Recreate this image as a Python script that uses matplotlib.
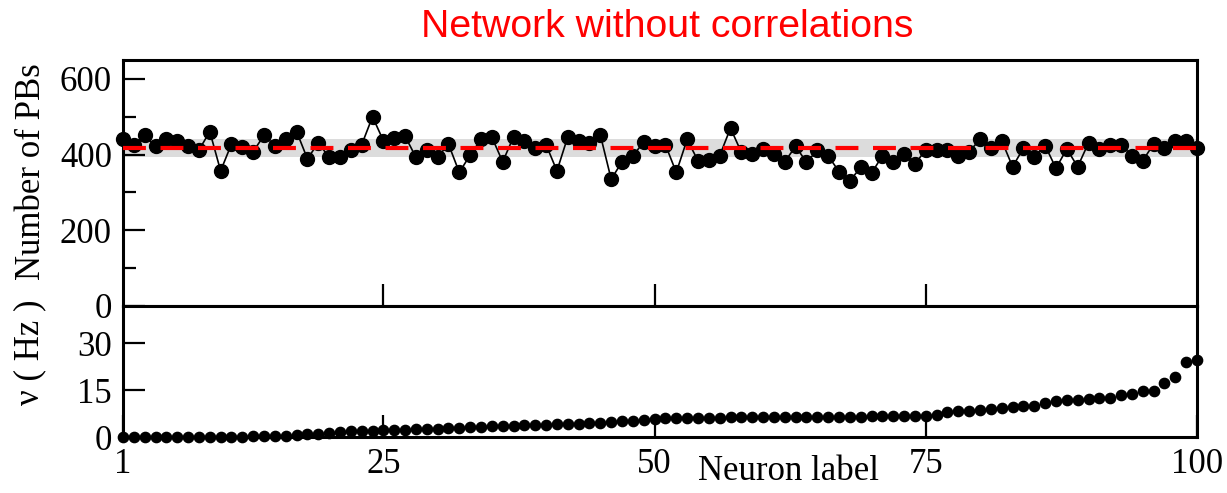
import numpy as np
import matplotlib
matplotlib.use('Agg')
import matplotlib.pyplot as plt

# number of population bursts each neuron takes part in
neuron = np.arange(1, 101)
n_pbs = [440, 426, 451, 422, 440, 437, 424, 412, 461, 357,
         428, 420, 408, 451, 424, 442, 461, 389, 431, 393,
         393, 413, 426, 500, 437, 444, 449, 393, 411, 393,
         428, 353, 399, 440, 446, 381, 447, 435, 417, 426,
         357, 447, 437, 431, 452, 335, 381, 397, 433, 422,
         426, 353, 440, 384, 385, 397, 470, 406, 402, 415,
         402, 381, 422, 380, 411, 397, 355, 331, 366, 351,
         397, 380, 402, 375, 413, 413, 411, 397, 408, 440,
         417, 437, 368, 417, 393, 424, 364, 415, 368, 431,
         415, 426, 426, 397, 384, 428, 417, 435, 437, 417]
pb_mean = 417
pb_std = 23.5

# firing rate (Hz), neurons sorted by rate
rate = [0.0, 0.0, 0.0, 0.0, 0.0, 0.0, 0.0, 0.0, 0.0, 0.0,
        0.1, 0.1, 0.2, 0.2, 0.3, 0.4, 0.5, 0.9, 1.1, 1.3,
        1.6, 1.8, 1.9, 2.0, 2.1, 2.2, 2.4, 2.5, 2.6, 2.7,
        2.9, 3.0, 3.2, 3.3, 3.4, 3.5, 3.6, 3.7, 3.8, 4.0,
        4.1, 4.2, 4.3, 4.5, 4.6, 4.8, 5.0, 5.2, 5.6, 5.9,
        6.0, 6.1, 6.1, 6.2, 6.2, 6.2, 6.3, 6.3, 6.3, 6.3,
        6.4, 6.4, 6.4, 6.4, 6.5, 6.5, 6.5, 6.5, 6.5, 6.6,
        6.6, 6.6, 6.6, 6.7, 6.7, 7.1, 8.0, 8.2, 8.3, 8.6,
        9.0, 9.4, 9.5, 9.8, 10.0, 11.0, 11.4, 11.9, 12.0, 12.3,
        12.4, 12.5, 13.6, 13.9, 14.6, 14.7, 17.3, 19.2, 24.0, 24.7]

xticks = [1, 25, 50, 75, 100]

serif = 'Liberation Serif'
W, H = 1227, 493
fig = plt.figure(figsize=(W / 100, H / 100), dpi=100)

left, right = 123 / W, 1197 / W
ax1 = fig.add_axes([left, 1 - 306 / H, right - left, (306 - 60) / H])
ax2 = fig.add_axes([left, 1 - 437 / H, right - left, (437 - 306) / H])

#top panel
ax1.axhspan(pb_mean - pb_std, pb_mean + pb_std, color='#dcdcdc', lw=0, zorder=0)
ax1.plot(neuron, n_pbs, '-o', color='black', lw=1.2, ms=10, clip_on=False, zorder=3)
ax1.axhline(pb_mean, color='red', lw=3, dashes=(5.5, 3.5), zorder=4)
ax1.set_xlim(1, 100)
ax1.set_ylim(0, 650)
ax1.set_yticks([0, 200, 400, 600])
ax1.set_yticks([100, 300, 500], minor=True)
ax1.set_xticks([25, 50, 75])
ax1.set_xticklabels([])

#bottom panel
ax2.plot(neuron, rate, 'o', color='black', ms=7.4, clip_on=False, zorder=3)
ax2.set_xlim(1, 100)
ax2.set_ylim(0, 42)
ax2.set_yticks([0, 15, 30])
ax2.set_xticks(xticks)

for ax in (ax1, ax2):
    for s in ax.spines.values():
        s.set_linewidth(2.2)
    ax.tick_params(which='major', direction='in', length=16, width=1.6,
                   top=False, right=False, labelsize=25, pad=8)
    ax.tick_params(which='minor', direction='in', length=9, width=1.6,
                   top=False, right=False)
    for lab in ax.get_xticklabels() + ax.get_yticklabels():
        lab.set_family(serif)

ax2.tick_params(axis='x', pad=8)

fig.text(32 / W, 1 - 172 / H, 'Number of PBs', rotation=90, ha='center', va='center',
         fontsize=25, family=serif)
fig.text(30 / W, 1 - 352 / H, 'ν ( Hz )', rotation=90, ha='center', va='center',
         fontsize=25, family=serif)
fig.text(789 / W, 1 - 472 / H, 'Neuron label', ha='center', va='center',
         fontsize=25, family=serif)
fig.text(667 / W, 1 - 27 / H, 'Network without correlations', ha='center', va='center',
         fontsize=28.3, color='red', family='Liberation Sans')

fig.savefig('out.png', dpi=100)
